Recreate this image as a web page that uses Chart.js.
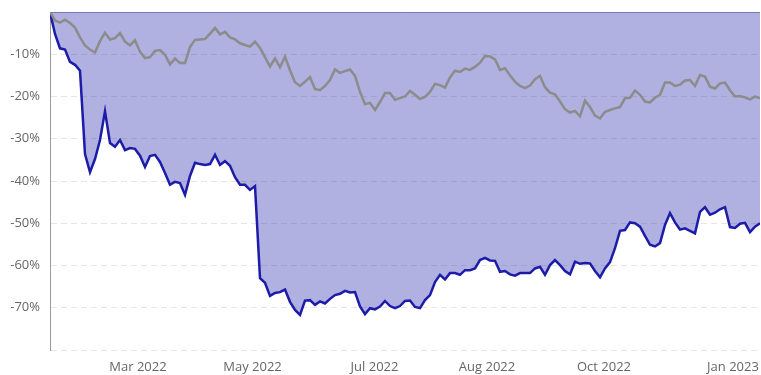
<!DOCTYPE html>
<html>
<head>
<meta charset="utf-8">
<script src="https://cdn.jsdelivr.net/npm/chart.js@4/dist/chart.umd.min.js"></script>
<style>
  body { margin: 0; background: #fff; }
</style>
</head>
<body>
<canvas id="drawdown" width="761" height="375"></canvas>
<script>
// drawdown in %, one point every few trading days
const portfolio = [
    0, -5.2, -8.6, -8.9, -11.8, -12.5, -13.9, -33.6, -37.9, -34.8,
    -30.3, -23.5, -31.0, -31.9, -30.3, -32.7, -32.2, -32.4, -34.0, -36.7,
    -34.1, -33.8, -35.5, -38.1, -40.9, -40.2, -40.5, -43.3, -38.8, -35.7,
    -36.0, -36.2, -36.0, -33.8, -36.2, -35.3, -36.4, -39.1, -40.9, -40.9,
    -42.1, -41.2, -63.0, -64.1, -67.2, -66.5, -66.3, -65.7, -68.6, -70.5,
    -71.7, -68.3, -68.2, -69.3, -68.5, -69.0, -67.9, -67.0, -66.7, -66.0,
    -66.4, -66.3, -69.7, -71.5, -70.1, -70.4, -69.7, -68.4, -69.6, -70.1,
    -69.6, -68.4, -68.3, -69.8, -70.1, -68.2, -67.0, -63.9, -62.2, -63.3,
    -61.8, -61.8, -62.2, -61.1, -61.1, -60.7, -58.7, -58.2, -58.8, -58.9,
    -61.5, -61.3, -62.1, -62.4, -61.8, -61.8, -61.8, -60.7, -60.3, -62.2,
    -59.9, -58.7, -59.9, -61.3, -62.1, -59.1, -59.6, -59.4, -59.5, -61.3,
    -62.8, -60.7, -59.2, -55.9, -51.8, -51.6, -49.8, -50.0, -50.8, -53.0,
    -55.1, -55.5, -54.7, -50.4, -47.6, -49.8, -51.5, -51.2, -51.8, -52.4,
    -47.3, -46.2, -48.0, -47.5, -46.7, -46.2, -50.9, -51.1, -50.1, -49.9,
    -52.1, -50.8, -50.0
]

const benchmark = [
    0, -2.0, -2.5, -1.8, -2.6, -3.7, -6.0, -7.9, -8.9, -9.6,
    -6.9, -4.9, -6.5, -6.2, -5.0, -7.0, -7.9, -6.7, -9.4, -10.9,
    -10.7, -9.2, -9.0, -10.1, -12.4, -11.0, -12.1, -12.1, -8.3, -6.6,
    -6.5, -6.4, -5.1, -3.8, -5.3, -4.7, -6.0, -6.5, -7.4, -7.8,
    -8.2, -7.0, -8.5, -10.7, -12.9, -11.0, -13.1, -10.6, -13.8, -16.6,
    -17.5, -16.5, -15.4, -18.2, -18.5, -17.5, -16.1, -13.6, -14.4, -14.0,
    -13.6, -15.1, -18.9, -21.8, -21.5, -23.2, -21.3, -19.2, -19.2, -20.8,
    -20.4, -20.0, -18.7, -19.6, -20.6, -20.1, -18.9, -17.0, -17.3, -17.9,
    -15.5, -13.9, -14.2, -13.4, -13.7, -13.0, -12.0, -10.4, -10.5, -11.2,
    -13.7, -13.3, -15.0, -16.5, -17.5, -18.0, -17.4, -15.9, -15.1, -17.8,
    -19.1, -19.5, -21.2, -23.0, -23.8, -23.4, -24.7, -21.0, -22.5, -24.5,
    -25.2, -23.6, -23.2, -22.8, -22.5, -20.4, -20.3, -18.6, -19.6, -21.2,
    -21.4, -20.3, -19.6, -16.7, -16.7, -17.5, -17.2, -16.2, -16.1, -17.5,
    -14.9, -15.3, -17.7, -18.1, -16.9, -16.7, -18.5, -20.0, -19.9, -20.2,
    -20.7, -20.0, -20.4
]

// where the month labels sit, in point index units
const tickLabels = ['Mar 2022', 'May 2022', 'Jul 2022', 'Aug 2022', 'Oct 2022', 'Jan 2023']
const tickPositions = [17.6, 40.5, 64.9, 87.4, 110.8, 136.6]

const toPoints = function (values) {
    return values.map((v, i) => ({ x: i, y: v }))
}

const tickFont = { family: "'Open Sans', sans-serif", size: 13 }

var chart = new Chart(document.getElementById('drawdown'), {
    type: 'line',
    data: {
        datasets: [{
            label: 'Portfolio',
            data: toPoints(portfolio),
            borderColor: '#1c1ca8',
            backgroundColor: 'rgba(28, 28, 168, 0.35)',
            borderWidth: 2.5,
            pointRadius: 0,
            fill: 'origin',
            order: 1
        }, {
            label: 'Benchmark',
            data: toPoints(benchmark),
            borderColor: '#8c8c8c',
            borderWidth: 2.5,
            pointRadius: 0,
            fill: false,
            order: 0
        }]
    },
    options: {
        responsive: false,
        animation: false,
        layout: { padding: { top: 12, right: 1, left: 0, bottom: 0 } },
        plugins: {
            legend: { display: false },
            tooltip: { enabled: false }
        },
        scales: {
            x: {
                type: 'linear',
                min: 0,
                max: portfolio.length - 1,
                afterBuildTicks: (scale) => {
                    scale.ticks = tickPositions.map(v => ({ value: v }))
                },
                afterFit: (scale) => { scale.height = 25 },
                grid: { display: false },
                border: { display: false },
                ticks: {
                    autoSkip: false,
                    maxRotation: 0,
                    padding: 1,
                    color: '#666',
                    font: tickFont,
                    callback: (value) => {
                        const k = tickPositions.indexOf(value)
                        return k >= 0 ? tickLabels[k] : null
                    }
                }
            },
            y: {
                min: -80,
                max: 0,
                afterFit: (scale) => {
                    scale.width = 50
                    scale.paddingTop = 0
                    scale.paddingBottom = 0
                },
                grid: {
                    drawTicks: false,
                    color: (ctx) => ctx.tick && ctx.tick.value === 0 ? '#aaa' : 'rgba(0, 0, 0, 0.1)'
                },
                border: {
                    color: '#999',
                    dash: (ctx) => ctx.tick && ctx.tick.value === 0 ? [] : [6, 4]
                },
                ticks: {
                    stepSize: 10,
                    padding: 10,
                    color: '#666',
                    font: tickFont,
                    callback: (value) => (value === 0 || value === -80) ? '' : value + '%'
                }
            }
        }
    }
})
</script>
</body>
</html>
